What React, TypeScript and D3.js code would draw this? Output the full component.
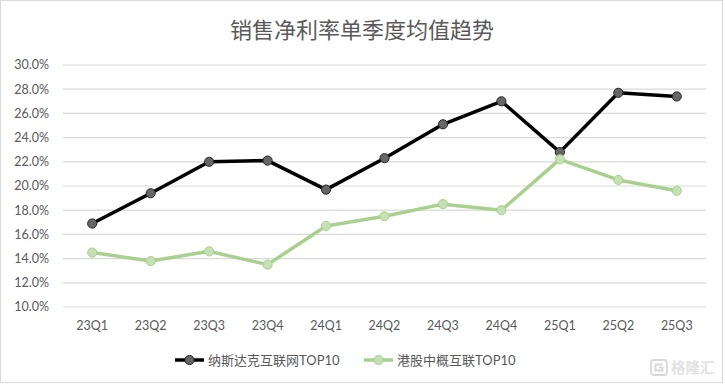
import React from 'react';
import * as d3 from 'd3';

const quarters = ['23Q1', '23Q2', '23Q3', '23Q4', '24Q1', '24Q2', '24Q3', '24Q4', '25Q1', '25Q2', '25Q3'];
const nasdaqTop10 = [16.9, 19.4, 22.0, 22.1, 19.7, 22.3, 25.1, 27.0, 22.8, 27.7, 27.4];
const hkTop10 = [14.5, 13.8, 14.6, 13.5, 16.7, 17.5, 18.5, 18.0, 22.2, 20.5, 19.6];
const yTicks = [10, 12, 14, 16, 18, 20, 22, 24, 26, 28, 30];
const seriesNames = ['纳斯达克互联网TOP10', '港股中概互联TOP10'];

const W = 725;
const H = 385;
const FONT = "Lato, 'Noto Sans CJK SC', sans-serif";

const App: React.FC = () => {
  const x = d3.scaleBand<string>().domain(quarters).range([63, 706]);
  const y = d3.scaleLinear().domain([10, 30]).range([307, 65]);
  const cx = (q: string) => (x(q) ?? 0) + x.bandwidth() / 2;

  const line = d3.line<number>()
    .x((_, i) => cx(quarters[i]))
    .y(d => y(d));

  const series = [
    { name: seriesNames[0], values: nasdaqTop10, stroke: '#000000', fill: '#666666', mstroke: '#262626' },
    { name: seriesNames[1], values: hkTop10, stroke: '#a9d18e', fill: '#c5e0b4', mstroke: '#a9d18e' },
  ];

  const legendX = [175, 364];

  return (
    <svg width={W} height={H} style={{ position: 'absolute', left: 0, top: 0, background: '#fff' }} fontFamily={FONT}>
      <rect x={0.5} y={0.5} width={722} height={382} fill="#fff" stroke="#d9d9d9" />
      <text x={362} y={38} textAnchor="middle" fontSize={22} fill="#595959"
        fontFamily="'Noto Sans CJK SC', sans-serif">销售净利率单季度均值趋势</text>

      {yTicks.map(t => (
        <g key={t}>
          <line x1={63} x2={706} y1={y(t)} y2={y(t)} stroke="#d9d9d9" strokeWidth={1.2} />
          <text x={49} y={y(t)} dy="0.35em" textAnchor="end" fontSize={12.5} fill="#595959">
            {`${t.toFixed(1)}%`}
          </text>
        </g>
      ))}

      {quarters.map(q => (
        <text key={q} x={cx(q)} y={330} textAnchor="middle" fontSize={12.5} fill="#595959">{q}</text>
      ))}

      {series.map(s => (
        <g key={s.name}>
          <path d={line(s.values) ?? ''} fill="none" stroke={s.stroke} strokeWidth={3.5} strokeLinejoin="round" />
          {s.values.map((v, i) => (
            <circle key={i} cx={cx(quarters[i])} cy={y(v)} r={4.6} fill={s.fill} stroke={s.mstroke} strokeWidth={1} />
          ))}
        </g>
      ))}

      {series.map((s, i) => (
        <g key={`lg-${s.name}`} transform={`translate(${legendX[i]},360)`}>
          <line x1={0} x2={29} y1={0} y2={0} stroke={s.stroke} strokeWidth={3.5} />
          <circle cx={14.5} cy={0} r={4.6} fill={s.fill} stroke={s.mstroke} strokeWidth={1} />
          <text x={33} y={0} dy="0.35em" fontSize={13} fill="#595959">{s.name}</text>
        </g>
      ))}

      <g transform="translate(651,360)" opacity={0.6}>
        <rect x={0} y={0} width={16} height={15} rx={3} fill="none" stroke="#bfbfbf" strokeWidth={1.8} />
        <path d="M4.5,4.5 H11.5 M4.5,4.5 V10.5 H11.5 V7.5 H8" fill="none" stroke="#bfbfbf" strokeWidth={1.8} />
        <text x={20} y={7.5} dy="0.36em" fontSize={14.5} fontWeight={700} fill="#cfcfcf"
          fontFamily="'Noto Sans CJK SC', sans-serif">格隆汇</text>
      </g>
    </svg>
  );
};

export default App;
